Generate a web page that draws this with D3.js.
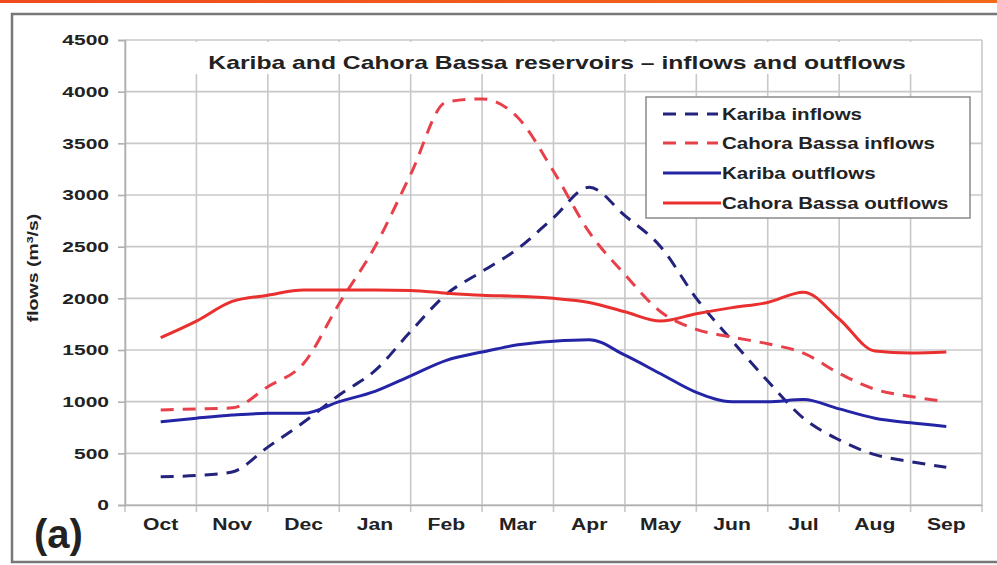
<!DOCTYPE html>
<html><head><meta charset="utf-8">
<script src="https://cdn.jsdelivr.net/npm/d3@7"></script>
<style>
html,body{margin:0;padding:0;background:#fff;}
svg{display:block;font-family:"Liberation Sans",Arial,sans-serif;}
</style></head>
<body>
<svg id="chart" width="997" height="565"></svg>
<script>
const months = ["Oct","Nov","Dec","Jan","Feb","Mar","Apr","May","Jun","Jul","Aug","Sep"];
const yTicks = [0,500,1000,1500,2000,2500,3000,3500,4000,4500];
// half-month positions (0 = mid-October)
const positions = [0,0.5,1,1.5,2,2.5,3,3.5,4,4.5,5,5.5,6,6.5,7,7.5,8,8.5,9,9.5,10,10.5,11];
const karibaIn   = [274,285,320,560,800,1065,1300,1680,2040,2260,2480,2780,3075,2800,2500,2000,1590,1200,840,630,487,420,365];
const cahoraIn   = [920,930,940,1145,1370,1950,2500,3200,3900,3930,3750,3230,2640,2230,1870,1700,1625,1560,1470,1275,1120,1050,1000];
const karibaOut  = [806,840,870,887,887,1000,1100,1250,1400,1480,1550,1585,1600,1450,1270,1090,1000,1000,1020,930,840,795,760];
const cahoraOut  = [1620,1780,1970,2030,2080,2080,2080,2075,2050,2030,2020,2000,1960,1870,1780,1850,1910,1960,2060,1800,1490,1470,1480];
const seriesNames = ["Kariba inflows","Cahora Bassa inflows","Kariba outflows","Cahora Bassa outflows"];

const svg = d3.select("#chart");
const L = 125, R = 982, T = 40, B = 505;
const FONT = "'Liberation Sans',Arial,sans-serif";

// widen text horizontally by a factor (the reference lettering is stretched)
function stretch(sel, f){
  sel.each(function(){
    const w = this.getComputedTextLength();
    d3.select(this).attr("textLength", w*f).attr("lengthAdjust","spacingAndGlyphs");
  });
}

// top orange strip
const grad = svg.append("defs").append("linearGradient").attr("id","og").attr("x1","0").attr("x2","1");
grad.append("stop").attr("offset","0").attr("stop-color","#f04a1e");
grad.append("stop").attr("offset","1").attr("stop-color","#f26a1a");
svg.append("rect").attr("x",0).attr("y",0).attr("width",997).attr("height",3).attr("fill","url(#og)");
// outer frame
svg.append("rect").attr("x",12).attr("y",14).attr("width",990).attr("height",548)
  .attr("fill","#fff").attr("stroke","#777").attr("stroke-width",2.5);

const x = d3.scaleBand().domain(months).range([L,R]).padding(0);
const xp = d3.scaleLinear().domain([-0.5,11.5]).range([L,R]);
const y = d3.scaleLinear().domain([0,4500]).range([B,T]);

// horizontal gridlines
svg.append("g").selectAll("line").data(yTicks).join("line")
  .attr("x1",L).attr("x2",R).attr("y1",d=>y(d)).attr("y2",d=>y(d))
  .attr("stroke","#c8c8c8").attr("stroke-width",1.6);
// vertical gridlines (band boundaries) extending below axis as ticks
const bounds = months.map(m=>x(m)).concat([x(months[11])+x.bandwidth()]);
svg.append("g").selectAll("line").data(bounds).join("line")
  .attr("x1",d=>d).attr("x2",d=>d).attr("y1",T).attr("y2",B+7)
  .attr("stroke","#c8c8c8").attr("stroke-width",1.6);

// title background + title
svg.append("rect").attr("x",150).attr("y",42).attr("width",810).attr("height",32).attr("fill","#fff");
svg.append("text").attr("x",557).attr("y",69).attr("text-anchor","middle")
  .attr("font-size",19).attr("font-weight","bold").attr("fill","#222")
  .text("Kariba and Cahora Bassa reservoirs – inflows and outflows")
  .call(stretch,1.3);

// y axis
const yAxis = svg.append("g").attr("transform",`translate(${L},0)`)
  .call(d3.axisLeft(y).tickValues(yTicks).tickSize(7).tickPadding(9).tickFormat(d3.format("d")));
yAxis.select(".domain").attr("stroke","#b0b0b0").attr("stroke-width",1.6);
yAxis.selectAll(".tick line").attr("stroke","#b0b0b0").attr("stroke-width",1.6);
yAxis.selectAll("text").attr("font-size",15).attr("font-weight","bold").attr("fill","#222")
  .attr("font-family",FONT).call(stretch,1.4);

// x axis labels
const xAxis = svg.append("g").attr("transform",`translate(0,${B})`)
  .call(d3.axisBottom(x).tickSize(0).tickPadding(14));
xAxis.select(".domain").attr("stroke","#b0b0b0").attr("stroke-width",1.6);
xAxis.selectAll("text").attr("font-size",16).attr("font-weight","bold").attr("fill","#222")
  .attr("font-family",FONT).call(stretch,1.32);

// y axis title
svg.append("text").attr("transform","translate(38,268) rotate(-90) scale(1.3,1)").attr("text-anchor","middle")
  .attr("font-size",15).attr("font-weight","bold").attr("fill","#222")
  .html('flows (m<tspan baseline-shift="super" font-size="9.5">3</tspan>/s)');

// lines
const blue = "#2424a6", navy = "#23237e", red = "#ea2f2f", pinkred = "#e8404a";
const styles = [
  {data:karibaIn, color:navy, dash:"13,9"},
  {data:cahoraIn, color:pinkred, dash:"13,9"},
  {data:karibaOut, color:blue, dash:null},
  {data:cahoraOut, color:red, dash:null}
];
const line = d3.line().x((d,i)=>xp(positions[i])).y(d=>y(d)).curve(d3.curveMonotoneX);
styles.forEach(s=>{
  svg.append("path").datum(s.data).attr("d",line).attr("fill","none")
    .attr("stroke",s.color).attr("stroke-width",3).attr("stroke-dasharray",s.dash)
    .attr("stroke-linejoin","round");
});

// legend
const lg = svg.append("g");
lg.append("rect").attr("x",646).attr("y",97).attr("width",324).attr("height",121)
  .attr("fill","#fff").attr("stroke","#8a8a8a").attr("stroke-width",1.5);
const ly = [114,143,173,203];
styles.forEach((s,i)=>{
  lg.append("line").attr("x1",663).attr("x2",s.dash?718:721).attr("y1",ly[i]).attr("y2",ly[i])
    .attr("stroke",s.color).attr("stroke-width",3).attr("stroke-dasharray",s.dash?"13,9":null);
  lg.append("text").attr("x",722).attr("y",ly[i]+6).attr("font-size",16).attr("font-weight","bold")
    .attr("fill","#222").text(seriesNames[i]).call(stretch,1.28);
});

// panel label
svg.append("text").attr("x",34).attr("y",548).attr("font-size",40).attr("font-weight","bold").attr("fill","#222")
  .attr("font-family",FONT).text("(a)");
</script>
</body></html>
